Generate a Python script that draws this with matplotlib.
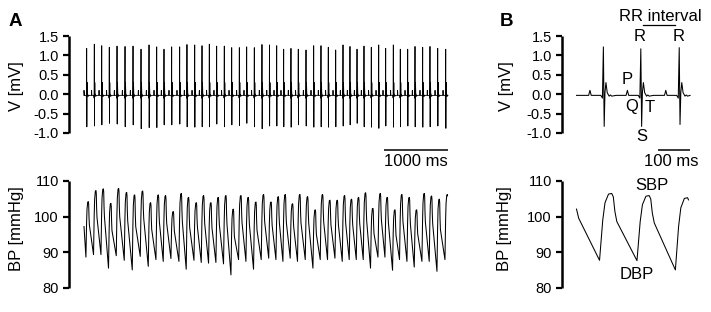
import numpy as np
import matplotlib
matplotlib.use("Agg")
import matplotlib.pyplot as plt
from matplotlib import transforms

plt.rcParams['font.family'] = ['Liberation Sans', 'DejaVu Sans']
plt.rcParams['axes.unicode_minus'] = False
plt.rcParams['font.size'] = 12

# ---------------- data ----------------
# Panel A: R-peak times (ms) of each heartbeat, R and S amplitudes (mV)
ecg_a_beat_ms = [42, 161, 277, 395, 516, 641, 766, 891, 1016, 1136, 1250, 1370, 1495,
                 1609, 1730, 1844, 1958, 2073, 2192, 2308, 2427, 2542, 2661, 2781, 2898,
                 3011, 3120, 3234, 3348, 3469, 3589, 3703, 3817, 3933, 4047, 4156, 4266,
                 4375, 4489, 4605, 4714, 4833, 4942, 5058, 5172, 5292, 5406, 5527, 5652]
ecg_a_r_mv = [1.18, 1.29, 1.25, 1.21, 1.24, 1.23, 1.24, 1.16, 1.27, 1.22,
              1.16, 1.22, 1.22, 1.28, 1.27, 1.25, 1.29, 1.24, 1.24, 1.20,
              1.20, 1.22, 1.20, 1.28, 1.27, 1.25, 1.16, 1.18, 1.16, 1.14,
              1.25, 1.25, 1.21, 1.14, 1.27, 1.23, 1.16, 1.24, 1.21, 1.27,
              1.18, 1.27, 1.16, 1.16, 1.23, 1.21, 1.23, 1.18, 1.16]
ecg_a_s_mv = [-0.84, -0.82, -0.79, -0.75, -0.77, -0.84, -0.79, -0.89, -0.86, -0.86,
              -0.79, -0.79, -0.77, -0.84, -0.85, -0.84, -0.84, -0.77, -0.84, -0.79,
              -0.81, -0.75, -0.84, -0.89, -0.82, -0.82, -0.84, -0.85, -0.79, -0.82,
              -0.85, -0.84, -0.85, -0.84, -0.82, -0.79, -0.75, -0.84, -0.85, -0.88,
              -0.82, -0.85, -0.84, -0.82, -0.84, -0.85, -0.84, -0.82, -0.88]
# Panel A: systolic / diastolic blood pressure of each beat (mmHg)
bp_a_sbp = [104.2, 107.3, 107.8, 103.7, 107.9, 106.8, 106.1, 107.2, 103.9, 106.1,
            105.9, 101.4, 106.5, 105.4, 103.9, 105.9, 103.9, 105.4, 105.9, 102.1,
            105.9, 105.4, 104.1, 106.2, 104.1, 105.6, 106.2, 103.6, 106.2, 105.6,
            101.9, 106.2, 104.6, 104.6, 105.9, 104.9, 105.4, 106.7, 102.3, 106.5,
            105.4, 101.9, 106.2, 105.4, 101.9, 106.5, 105.8, 104.9, 106.2]
bp_a_dbp = [88.6, 89.3, 89.3, 85.5, 89.0, 87.7, 85.0, 88.8, 86.0, 87.9,
            87.4, 88.2, 87.4, 85.2, 87.7, 87.1, 86.9, 87.1, 86.7, 83.6,
            87.9, 87.4, 85.2, 87.9, 88.3, 87.9, 87.4, 88.3, 87.4, 87.9,
            85.5, 87.9, 87.9, 88.3, 87.4, 87.9, 87.9, 87.9, 85.5, 88.6,
            88.6, 84.9, 87.9, 87.4, 85.8, 87.4, 87.4, 84.6, 87.9]
bp_a_lead = [(0, 97.2)]
ecg_a_span = (0, 5687)
bp_a_span = (0, 5680)

# Panel B: three beats, zoomed
ecg_b_beat_ms = [84, 201, 321]
ecg_b_r_mv = [1.22, 1.17, 1.20]
ecg_b_s_mv = [-0.83, -0.83, -0.78]
bp_b_sbp = [106.5, 105.9, 105.3]
bp_b_dbp = [87.7, 87.6, 85.0]
bp_b_lead = [(0, 102.1), (7, 99.5)]
ecg_b_span = (0, 355)
bp_b_span = (0, 350)

# Beat templates (offset from R peak in ms); nan marks R / S placeholders
ecg_tmpl_ms = [-60, -46, -42, -38, -8, -3, 0, 2.5, 5, 8, 12, 18, 22, 26, 40]
ecg_tmpl_mv = [-0.03, -0.03, 0.10, -0.03, -0.03, -0.10, np.nan, np.nan,
               0.05, 0.30, 0.04, -0.05, -0.02, -0.05, -0.03]
bp_tmpl_ms = [-12, -2, 5, 16, 26, 31, 36, 42]
bp_tmpl_frac = [0.0, 0.6, 0.86, 0.99, 1.0, 0.95, 0.73, 0.58]

baseline_mv = -0.03

yticks_v = [1.5, 1.0, 0.5, 0.0, -0.5, -1.0]
yticklabels_v = ['1.5', '1.0', '0.5', '0.0', '-0.5', '-1.0']
yticks_bp = [110, 100, 90, 80]


def ecg_trace(beats, r_amp, s_amp, span):
    t, v = [span[0]], [baseline_mv]
    for b, r, s in zip(beats, r_amp, s_amp):
        for dt, val in zip(ecg_tmpl_ms, ecg_tmpl_mv):
            if np.isnan(val):
                val = r if dt == 0 else s
            t.append(b + dt)
            v.append(val)
    t.append(span[1]); v.append(baseline_mv)
    t = np.array(t, float); v = np.array(v, float)
    o = np.argsort(t, kind='stable')
    t, v = t[o], v[o]
    m = (t >= span[0]) & (t <= span[1])
    return t[m], v[m]


def bp_trace(beats, sbp, dbp, lead, span):
    t = [p[0] for p in lead]
    v = [p[1] for p in lead]
    for b, s, d in zip(beats, sbp, dbp):
        for dt, f in zip(bp_tmpl_ms, bp_tmpl_frac):
            t.append(b + dt)
            v.append(d + f * (s - d))
    t = np.array(t, float); v = np.array(v, float)
    end_v = np.interp(span[1], t, v)
    m = t <= span[1]
    t = np.append(t[m], span[1]); v = np.append(v[m], end_v)
    return t, v


# ---------------- layout ----------------
W, H = 711, 312
fig = plt.figure(figsize=(W / 100, H / 100), dpi=100)


def px_axes(x0, x1, ytop, ybot):
    return fig.add_axes([x0 / W, 1 - ybot / H, (x1 - x0) / W, (ybot - ytop) / H])


def style(ax, yt, ylim, xlim):
    ax.set_xlim(*xlim)
    ax.set_ylim(*ylim)
    for s in ('top', 'right', 'bottom'):
        ax.spines[s].set_visible(False)
    ax.spines['left'].set_linewidth(1.8)
    ax.spines['left'].set_capstyle('butt')
    ax.set_xticks([])
    ax.set_yticks(yt)
    ax.tick_params(axis='y', width=1.6, length=4.5, pad=2.5, labelsize=10.5)
    ax.patch.set_alpha(0)


def ftext(x, y, s, **kw):
    kw.setdefault('fontsize', 12)
    fig.text(x / W, 1 - y / H, s, ha='center', va='center', **kw)


msA = 15.625  # ms per pixel, panel A
msB = 3.125   # ms per pixel, panel B
xA0, xA1, startA = 68.5, 455, 84
xB0, xB1, startB = 561.5, 705, 576.5
xlimA = ((xA0 - startA) * msA, (xA1 - startA) * msA)
xlimB = ((xB0 - startB) * msB, (xB1 - startB) * msB)

lw = 0.75
# Panel A ECG
axA1 = px_axes(xA0, xA1, 36, 133)
t, v = ecg_trace(ecg_a_beat_ms, ecg_a_r_mv, ecg_a_s_mv, ecg_a_span)
axA1.plot(t, v, color='black', lw=0.6)
style(axA1, yticks_v, (-1.0, 1.5), xlimA)
axA1.set_yticklabels(yticklabels_v)

# Panel A BP
axA2 = px_axes(xA0, xA1, 181, 287.7)
t, v = bp_trace(ecg_a_beat_ms, bp_a_sbp, bp_a_dbp, bp_a_lead, bp_a_span)
axA2.plot(t, v, color='black', lw=lw)
style(axA2, yticks_bp, (80, 110), xlimA)

# Panel B ECG
axB1 = px_axes(xB0, xB1, 36, 133)
t, v = ecg_trace(ecg_b_beat_ms, ecg_b_r_mv, ecg_b_s_mv, ecg_b_span)
axB1.plot(t, v, color='black', lw=lw)
style(axB1, yticks_v, (-1.0, 1.5), xlimB)
axB1.set_yticklabels(yticklabels_v)

# Panel B BP
axB2 = px_axes(xB0, xB1, 181, 287.7)
t, v = bp_trace(ecg_b_beat_ms, bp_b_sbp, bp_b_dbp, bp_b_lead, bp_b_span)
axB2.plot(t, v, color='black', lw=lw)
style(axB2, yticks_bp, (80, 110), xlimB)

# scale bars (data x, figure y)
trA = transforms.blended_transform_factory(axA1.transData, fig.transFigure)
axA1.plot([ecg_a_span[1] - 1000, ecg_a_span[1]], [1 - 149.5 / H] * 2, transform=trA,
          color='black', lw=1.1, clip_on=False, solid_capstyle='butt')
axA1.text(ecg_a_span[1] - 500, 1 - 161 / H, '1000 ms', transform=trA,
          ha='center', va='center', fontsize=12)
trB = transforms.blended_transform_factory(axB1.transData, fig.transFigure)
axB1.plot([ecg_b_span[1] - 100, ecg_b_span[1]], [1 - 149.5 / H] * 2, transform=trB,
          color='black', lw=1.1, clip_on=False, solid_capstyle='butt')
axB1.text(ecg_b_span[1] - 58, 1 - 161 / H, '100 ms', transform=trB,
          ha='center', va='center', fontsize=12)

# panel letters and axis labels
ftext(15, 21, 'A', fontweight='bold', fontsize=13.5)
ftext(507, 21, 'B', fontweight='bold', fontsize=13.5)
ftext(16, 86, 'V [mV]', rotation=90)
ftext(16.5, 229, 'BP [mmHg]', rotation=90)
ftext(506, 86, 'V [mV]', rotation=90)
ftext(505, 229, 'BP [mmHg]', rotation=90)

# ECG annotations in B
ftext(660, 16.5, 'RR interval')
fig.add_artist(plt.Line2D([643 / W, 675 / W], [1 - 25 / H, 1 - 25 / H], color='black', lw=0.9))
ftext(640, 36.5, 'R')
ftext(679, 36.5, 'R')
ftext(626.7, 80, 'P')
ftext(632, 107, 'Q')
ftext(650, 107, 'T')
ftext(641.7, 136.5, 'S')
ftext(651.7, 185, 'SBP')
ftext(636.7, 274.3, 'DBP')

fig.savefig('out.png', dpi=100)
